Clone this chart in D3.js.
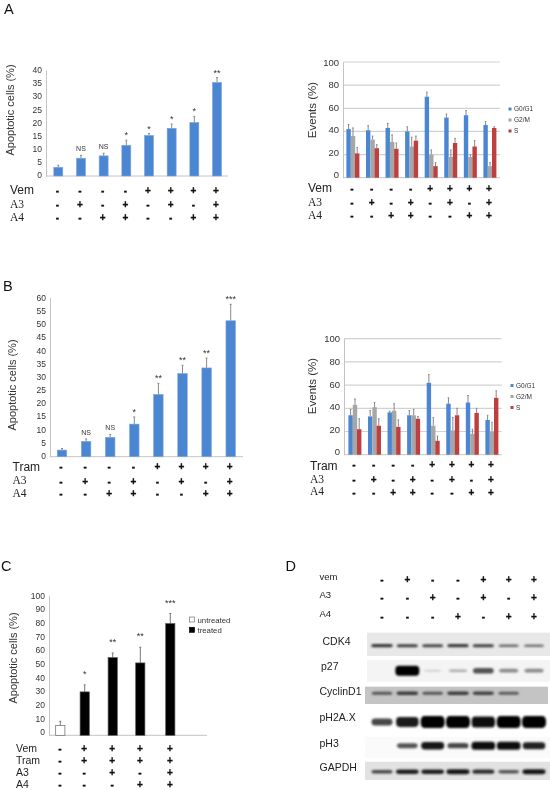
<!DOCTYPE html>
<html><head><meta charset="utf-8">
<script src="https://cdn.jsdelivr.net/npm/d3@7"></script>
<style>html,body{margin:0;padding:0;background:#fff}svg{display:block;filter:blur(.35px)}text{font-family:"Liberation Sans",Arial,sans-serif}</style>
</head><body><svg id="c" width="550" height="790"></svg>
<script>
// ---- data ----
const signsVem = ["-","-","-","-","+","+","+","+"];
const signsA3  = ["-","+","-","+","-","+","-","+"];
const signsA4  = ["-","-","+","+","-","-","+","+"];

const apoA      = [3.3,6.7,7.6,11.6,15.3,18,20.2,35.3];
const apoAErr   = [0.8,1.1,1,1.9,0.7,1.6,2.3,1.8];
const apoAStars = ["","NS","NS","*","*","*","*","**"];

const apoB      = [2.5,5.8,7.3,12.3,23.5,31.4,33.5,51.3];
const apoBErr   = [0.6,0.9,1.1,2.7,4.2,3.1,3.7,6.2];
const apoBStars = ["","NS","NS","*","**","**","**","***"];

const apoC      = [7,31,55.5,51.7,79.8];
const apoCErr   = [3,5,3.3,11.2,7.2];
const apoCStars = ["","*","**","**","***"];
const cVem  = ["-","+","+","+","+"];
const cTram = ["-","+","+","+","+"];
const cA3   = ["-","-","+","-","+"];
const cA4   = ["-","-","-","+","+"];
const cTreated = ["untreated","treated","treated","treated","treated"];

const phases = ["G0/G1","G2/M","S"];
const evA = [[42,41,43,40,70,52,54,45.5],[36,33,31,27,20,18,18,10],[21,25.5,25,32,10,30,27,43]];
const evAErr = [[4,4,4,4,4,3,4,3],[7,3,6,8,4,6,2,3],[5,3,5,4,3,4,5,1]];
const evB = [[34,33,36.5,34,62,44,45,30],[43,41,38,34,25,21,18,20],[22,25,24,31,12,34,36,49]];
const evBErr = [[5,5,1,4,7,5,6,4],[5,4,6,5,7,11,4,8],[9,6,6,2,4,6,4,6]];

const blotNames = ["CDK4","p27","CyclinD1","pH2A.X","pH3","GAPDH"];
const blotCDK4  = [.62,.58,.55,.6,.58,.42,.38];
const blotP27   = [0,1,.04,.15,.5,.28,.28];
const blotCyc   = [.5,.62,.5,.62,.58,.48,0];
const blotH2A   = [.55,.8,1,1,.92,1,1];
const blotH3    = [0,.5,.85,.55,.95,.95,.78];
const blotGAPDH = [.55,.8,.8,.85,.7,.5,.85];
const blotVem = ["-","+","-","-","+","+","+"];
const blotA3  = ["-","-","+","-","+","-","+"];
const blotA4  = ["-","-","-","+","-","+","+"];

// ---- drawing ----
const svg = d3.select("#c");
const BLUE="#4b86d2", GREY="#a6a6a6", RED="#bd3f3f";
const defs = svg.append("defs");
defs.append("filter").attr("id","b1").attr("x","-20%").attr("y","-100%").attr("width","140%").attr("height","300%")
  .append("feGaussianBlur").attr("stdDeviation",0.8);
defs.append("filter").attr("id","b2").attr("x","-5%").attr("y","-5%").attr("width","110%").attr("height","110%")
  .append("feGaussianBlur").attr("stdDeviation",0.5);

function letter(t,x,y){svg.append("text").attr("x",x).attr("y",y).attr("font-size",14.5).attr("fill","#111").text(t);}
function signs(g,x,vals,y,dx){
  g.selectAll(null).data(vals).join("text")
    .attr("x",(d,i)=>x(i)+dx).attr("y",y+3.5).attr("text-anchor","middle")
    .attr("font-size",10).attr("font-weight","bold").attr("fill","#111")
    .attr("stroke","#111").attr("stroke-width",.3).text(d=>d);
}
function rowLabel(t,x,y,serif,fs){
  const s=svg.append("text").attr("x",x).attr("y",y+4).attr("font-size",fs||11).attr("fill","#222").text(t);
  if(serif) s.style("font-family",'"Liberation Serif",serif').attr("font-size",11.5);
}
function yLabel(t,x,y,fs){
  svg.append("text").attr("transform",`translate(${x},${y}) rotate(-90)`).attr("text-anchor","middle")
    .attr("font-size",fs).attr("fill","#333").text(t);
}
function yAxis(scale,x,ticks,right,fs,shift0){
  const g=svg.append("g").attr("transform",`translate(${x},0)`)
    .call(d3.axisLeft(scale).tickValues(ticks).tickSize(0).tickPadding(4).tickFormat(d3.format("d")));
  g.select(".domain").attr("stroke","#c4c4c4");
  const top=ticks[ticks.length-1];
  g.selectAll("text").attr("font-size",fs).attr("fill","#333").style("font-family",'"Liberation Sans",Arial,sans-serif')
    .attr("transform",d=>`translate(0,${-shift0*(1-d/top)})`);
  svg.append("line").attr("x1",x).attr("x2",right).attr("y1",scale(0)).attr("y2",scale(0)).attr("stroke","#c4c4c4");
}
function errBars(g,xf,vals,errs,y,col,w){
  const h=g.selectAll(null).data(vals).join("g");
  h.append("line").attr("x1",(d,i)=>xf(i)).attr("x2",(d,i)=>xf(i))
    .attr("y1",d=>y(d)).attr("y2",(d,i)=>y(d+errs[i])).attr("stroke",col).attr("stroke-width",1);
  h.append("line").attr("x1",(d,i)=>xf(i)-w).attr("x2",(d,i)=>xf(i)+w)
    .attr("y1",(d,i)=>y(d+errs[i])).attr("y2",(d,i)=>y(d+errs[i])).attr("stroke",col).attr("stroke-width",1);
}
function apoChart(o){
  const x=d3.scalePoint().domain(d3.range(o.vals.length)).range(o.xr);
  const y=d3.scaleLinear().domain(o.yd).range(o.yr);
  yAxis(y,o.axisX,o.ticks,o.right,o.tickFs,1);
  const g=svg.append("g");
  errBars(g,x,o.vals,o.errs,y,"#8a8a8a",1);
  g.selectAll(null).data(o.vals).join("rect")
    .attr("x",(d,i)=>x(i)-o.bw/2).attr("width",o.bw)
    .attr("y",d=>y(d)).attr("height",d=>y(0)-y(d))
    .attr("fill",BLUE).attr("stroke","#7da6de").attr("stroke-width",.6);
  g.selectAll(null).data(o.stars).join("text")
    .attr("x",(d,i)=>x(i)).attr("y",(d,i)=>y(o.vals[i]+o.errs[i])-o.starGap+(d==="NS"?0:2))
    .attr("text-anchor","middle").attr("font-size",d=>d==="NS"?7:9).attr("fill","#333").text(d=>d);
  return x;
}
function evChart(o){
  const x=d3.scalePoint().domain(d3.range(8)).range(o.xr);
  const y=d3.scaleLinear().domain([0,100]).range(o.yr);
  const gr=svg.append("g");
  gr.selectAll(null).data([20,40,60,80,100]).join("line").attr("x1",o.axisX).attr("x2",o.right)
    .attr("y1",d=>y(d)).attr("y2",d=>y(d)).attr("stroke","#d2d2d2").attr("stroke-width",1.2);
  yAxis(y,o.axisX,[0,20,40,60,80,100],o.right,9.5,2.8);
  const cols=[BLUE,GREY,RED], off=[-4.4,0,4.2];
  o.vals.forEach((v,k)=>{
    const g=svg.append("g");
    const xf=i=>x(i)+off[k];
    errBars(g,xf,v,o.errs[k],y,"#888",.8);
    g.selectAll(null).data(v).join("rect").attr("x",(d,i)=>xf(i)-2.2).attr("width",4.4)
      .attr("y",d=>y(d)).attr("height",d=>y(0)-y(d)).attr("fill",cols[k]);
  });
  const lg=svg.append("g");
  lg.selectAll(null).data(phases).join("rect").attr("x",o.lx).attr("y",(d,i)=>o.ly+i*11-1.5)
    .attr("width",3).attr("height",3).attr("fill",(d,i)=>cols[i]);
  lg.selectAll(null).data(phases).join("text").attr("x",o.lx+5.5).attr("y",(d,i)=>o.ly+i*11+2.3)
    .attr("font-size",6.5).attr("fill","#333").text(d=>d);
  return x;
}

// Panel A
letter("A",4,14);
yLabel("Apoptotic cells (%)",13.5,110,11);
let xx=apoChart({vals:apoA,errs:apoAErr,stars:apoAStars,xr:[58.3,217],yd:[0,40],yr:[176,70],ticks:d3.range(0,41,5),
  axisX:46,right:228,tickFs:8.5,bw:9,starGap:4});
rowLabel("Vem",10,190,0,12);rowLabel("A3",10,204,1);rowLabel("A4",10,217,1);
[[signsVem,190],[signsA3,204.5],[signsA4,217.5]].forEach(r=>signs(svg.append("g"),xx,r[0],r[1],-1));

// Panel A right
xx=evChart({vals:evA,errs:evAErr,xr:[353,490],yr:[177.7,62],axisX:343,right:500,lx:508.5,ly:109});
yLabel("Events (%)",315.5,110,11.5);
rowLabel("Vem",308,188,0,12);rowLabel("A3",308,202,1);rowLabel("A4",308,215,1);
[[signsVem,188.3],[signsA3,202.5],[signsA4,215]].forEach(r=>signs(svg.append("g"),xx,r[0],r[1],-1));

// Panel B
letter("B",3,290.5);
yLabel("Apoptotic cells (%)",15.5,385,11);
xx=apoChart({vals:apoB,errs:apoBErr,stars:apoBStars,xr:[62,230.7],yd:[0,60],yr:[456.7,297.7],ticks:d3.range(0,61,5),
  axisX:50,right:243,tickFs:8.5,bw:9.5,starGap:4});
rowLabel("Tram",12.5,467,0,12);rowLabel("A3",12.5,480,1);rowLabel("A4",12.5,493,1);
[[signsVem,466],[signsA3,481],[signsA4,493.5]].forEach(r=>signs(svg.append("g"),xx,r[0],r[1],-1));

// Panel B right
xx=evChart({vals:evB,errs:evBErr,xr:[355,492],yr:[454.7,338.7],axisX:344,right:501.7,lx:510.5,ly:385.5});
yLabel("Events (%)",316,386,11.5);
rowLabel("Tram",310,465.5,0,12);rowLabel("A3",310,479,1);rowLabel("A4",310,491,1);
[[signsVem,464.7],[signsA3,479.3],[signsA4,492]].forEach(r=>signs(svg.append("g"),xx,r[0],r[1],-1));

// Panel C
letter("C",1,570.5);
yLabel("Apoptotic cells (%)",17,658,11);
const cXs=d3.scaleOrdinal().domain(d3.range(5)).range([60.3,84.7,112.7,140.3,170.3]);
{
  const y=d3.scaleLinear().domain([0,100]).range([735.3,595.3]);
  yAxis(y,49,d3.range(0,101,10),207,8.5,3.2);
  const g=svg.append("g");
  errBars(g,cXs,apoC,apoCErr,y,"#777",1);
  g.selectAll(null).data(apoC).join("rect").attr("x",(d,i)=>cXs(i)-4.6).attr("width",9.2)
    .attr("y",d=>y(d)).attr("height",d=>y(0)-y(d))
    .attr("fill",(d,i)=>cTreated[i]==="treated"?"#000":"#fff")
    .attr("stroke",(d,i)=>cTreated[i]==="treated"?"#555":"#666").attr("stroke-width",.7);
  g.selectAll(null).data(apoCStars).join("text").attr("x",(d,i)=>cXs(i))
    .attr("y",(d,i)=>y(apoC[i]+apoCErr[i])-8).attr("text-anchor","middle").attr("font-size",9).attr("fill","#333").text(d=>d);
  const lg=svg.append("g");
  const kinds=["untreated","treated"];
  lg.selectAll(null).data(kinds).join("rect").attr("x",189.5).attr("y",(d,i)=>617+i*10.3).attr("width",5).attr("height",5)
    .attr("fill",(d,i)=>i?"#000":"#fff").attr("stroke",(d,i)=>i?"#000":"#777").attr("stroke-width",.7);
  lg.selectAll(null).data(kinds).join("text").attr("x",197.5).attr("y",(d,i)=>622.6+i*10.3)
    .attr("font-size",7.8).attr("fill","#333").text(d=>d);
}
[["Vem",748,cVem],["Tram",760,cTram],["A3",772,cA3],["A4",784,cA4]].forEach(r=>{
  rowLabel(r[0],16,r[1],0,10.5);
  signs(svg.append("g"),cXs,r[2],r[1],-.5);
});

// Panel D
letter("D",285.5,570.5);
const lane=d3.scalePoint().domain(d3.range(7)).range([382,534]);
[["vem",578,blotVem],["A3",596,blotA3],["A4",615,blotA4]].forEach(r=>{
  svg.append("text").attr("x",319.5).attr("y",r[1]+2).attr("font-size",9.5).attr("fill","#222").text(r[0]);
  signs(svg.append("g"),lane,r[2],r[1]+1,0);
});
const rowsD=[
 {vals:blotCDK4,lx:322.5,ly:645,x:367,w:183,y:632.7,h:23.3,by:645.7,bg:"#e8e8e8",maxH:4.5},
 {vals:blotP27,lx:321,ly:670,x:367,w:183,y:660,h:21.7,by:670.7,bg:"#f4f4f4",maxH:10},
 {vals:blotCyc,lx:319.5,ly:695,x:365,w:183,y:686.7,h:17.3,by:693.3,bg:"#c4c4c4",maxH:5},
 {vals:blotH2A,lx:319.5,ly:721,x:367,w:183,y:710,h:21.7,by:722,bg:"#ffffff",maxH:12},
 {vals:blotH3,lx:319.5,ly:747,x:365,w:185,y:736.7,h:21.7,by:745.7,bg:"#fafafa",maxH:8.5},
 {vals:blotGAPDH,lx:319.5,ly:771,x:365,w:185,y:761.7,h:18.3,by:771.7,bg:"#e2e2e2",maxH:5.5}
];
const shade=d3.scaleLinear().domain([0,.6,1]).range(["#cfcfcf","#3a3a3a","#050505"]);
rowsD.forEach((r,k)=>{
  svg.append("text").attr("x",r.lx).attr("y",r.ly).attr("font-size",10.5).attr("fill","#222").text(blotNames[k]);
  const g=svg.append("g");
  g.append("rect").attr("x",r.x).attr("y",r.y).attr("width",r.w).attr("height",r.h).attr("fill",r.bg).attr("filter","url(#b2)");
  const bw=d=>d>0?17+7*d:0, bh=d=>1.2+(r.maxH-1.2)*d;
  g.selectAll(null).data(r.vals).join("rect")
    .attr("x",(d,i)=>lane(i)-bw(d)/2).attr("width",bw)
    .attr("y",d=>r.by-bh(d)/2).attr("height",bh)
    .attr("rx",3.5).attr("ry",d=>bh(d)/2.4)
    .attr("fill",d=>shade(d)).attr("filter","url(#b1)");
});
</script></body></html>
